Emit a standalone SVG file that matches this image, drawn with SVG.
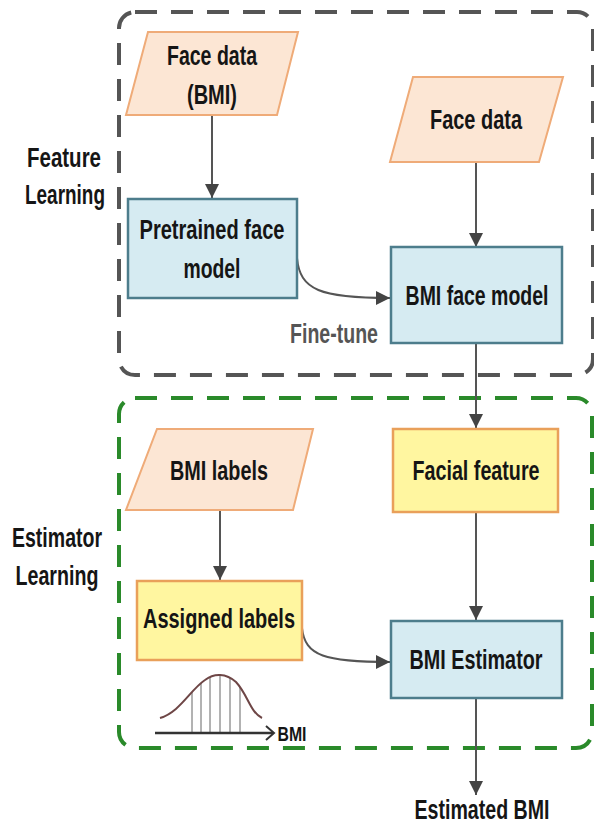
<svg xmlns="http://www.w3.org/2000/svg" width="594" height="828" viewBox="0 0 594 828">
<defs>
<style>
.t{font-family:"Liberation Sans",Arial,sans-serif;font-weight:bold;font-size:27px;fill:#151515;text-anchor:middle}
.para{fill:#fce6d4;stroke:#efab78;stroke-width:2}
.blue{fill:#d6ebf2;stroke:#4d7d8c;stroke-width:2.5}
.yel{fill:#fff6a0;stroke:#e9a05a;stroke-width:2.5}
.con{fill:none;stroke:#555;stroke-width:2}
</style>
<marker id="ah" viewBox="0 0 10 10" refX="10" refY="5" markerWidth="7" markerHeight="7" markerUnits="strokeWidth" orient="auto">
<path d="M0,0 L10,5 L0,10 z" fill="#444"/>
</marker>
<clipPath id="bell"><path d="M160,718 C180,712 190,690 205,680 C214,673 226,673 236,682 C248,695 250,712 262,718 L262,733 L160,733 z"/></clipPath>
</defs>
<rect width="594" height="828" fill="#fff"/>
<g id="group-feature">
<rect x="119" y="12" width="474" height="363" rx="16" fill="none" stroke="#555" stroke-width="4" stroke-dasharray="22 14"/>
<text class="t" x="64" y="167" textLength="74" lengthAdjust="spacingAndGlyphs">Feature</text>
<text class="t" x="65" y="204" textLength="80" lengthAdjust="spacingAndGlyphs">Learning</text>
</g>
<g id="group-estimator">
<rect x="119" y="398" width="473" height="350" rx="16" fill="none" stroke="#2a8a2a" stroke-width="4" stroke-dasharray="22 14"/>
<text class="t" x="57" y="547" textLength="90" lengthAdjust="spacingAndGlyphs">Estimator</text>
<text class="t" x="57" y="585" textLength="83" lengthAdjust="spacingAndGlyphs">Learning</text>
</g>
<g id="connectors">
<line class="con" x1="212" y1="116" x2="212" y2="198" marker-end="url(#ah)"/>
<line class="con" x1="476" y1="163" x2="476" y2="247" marker-end="url(#ah)"/>
<path class="con" d="M297,258 C300,290 320,298 390,298" marker-end="url(#ah)"/>
<line class="con" x1="476" y1="343" x2="476" y2="428" marker-end="url(#ah)"/>
<line class="con" x1="476" y1="512" x2="476" y2="620" marker-end="url(#ah)"/>
<line class="con" x1="220" y1="511" x2="220" y2="580" marker-end="url(#ah)"/>
<path class="con" d="M302,628 C305,656 325,662 390,662" marker-end="url(#ah)"/>
<line class="con" x1="476" y1="698" x2="476" y2="795" marker-end="url(#ah)"/>
</g>
<g id="face-data-bmi">
<polygon class="para" points="148,32 298,32 277,115 126,115"/>
<text class="t" x="212" y="65" textLength="90" lengthAdjust="spacingAndGlyphs">Face data</text>
<text class="t" x="212" y="104" textLength="50" lengthAdjust="spacingAndGlyphs">(BMI)</text>
</g>
<g id="pretrained-face-model">
<rect class="blue" x="128" y="199" width="169" height="99"/>
<text class="t" x="212" y="239" textLength="145" lengthAdjust="spacingAndGlyphs">Pretrained face</text>
<text class="t" x="212" y="278" textLength="57" lengthAdjust="spacingAndGlyphs">model</text>
</g>
<g id="face-data">
<polygon class="para" points="413,77 563,77 539,162 390,162"/>
<text class="t" x="476" y="129" textLength="92" lengthAdjust="spacingAndGlyphs">Face data</text>
</g>
<g id="bmi-face-model">
<rect class="blue" x="391" y="247" width="171" height="96"/>
<text class="t" transform="translate(477,305) scale(0.722,1)" x="0" y="0">BMI face model</text>
</g>
<g id="fine-tune-label">
<text class="t" x="334" y="343" textLength="88" lengthAdjust="spacingAndGlyphs" style="fill:#555">Fine-tune</text>
</g>
<g id="bmi-labels">
<polygon class="para" points="157,429 313,429 293,510 126,510"/>
<text class="t" x="219" y="480" textLength="98" lengthAdjust="spacingAndGlyphs">BMI labels</text>
</g>
<g id="facial-feature">
<rect class="yel" x="393" y="429" width="165" height="83"/>
<text class="t" x="476" y="480" textLength="127" lengthAdjust="spacingAndGlyphs">Facial feature</text>
</g>
<g id="assigned-labels">
<rect class="yel" x="137" y="581" width="165" height="79"/>
<text class="t" x="219" y="628" textLength="152" lengthAdjust="spacingAndGlyphs">Assigned labels</text>
</g>
<g id="bmi-estimator">
<rect class="blue" x="391" y="621" width="171" height="77"/>
<text class="t" x="476" y="669" textLength="133" lengthAdjust="spacingAndGlyphs">BMI Estimator</text>
</g>
<g id="distribution">
<g clip-path="url(#bell)" stroke="#666" stroke-width="1">
<line x1="192" y1="660" x2="192" y2="733"/>
<line x1="201" y1="660" x2="201" y2="733"/>
<line x1="210" y1="660" x2="210" y2="733"/>
<line x1="220" y1="660" x2="220" y2="733"/>
<line x1="230" y1="660" x2="230" y2="733"/>
<line x1="240" y1="660" x2="240" y2="733"/>
</g>
<path d="M160,718 C180,712 190,690 205,680 C214,673 226,673 236,682 C248,695 250,712 262,718" fill="none" stroke="#6e4646" stroke-width="2"/>
<line x1="155" y1="733" x2="273" y2="733" stroke="#333" stroke-width="2.5"/>
<polyline points="266,726 274,733 266,740" fill="none" stroke="#333" stroke-width="2"/>
<text class="t" x="292" y="741" textLength="29" lengthAdjust="spacingAndGlyphs" style="font-size:20px">BMI</text>
</g>
<g id="estimated-bmi">
<text class="t" transform="translate(482,819) scale(0.726,1)" x="0" y="0">Estimated BMI</text>
</g>
</svg>
